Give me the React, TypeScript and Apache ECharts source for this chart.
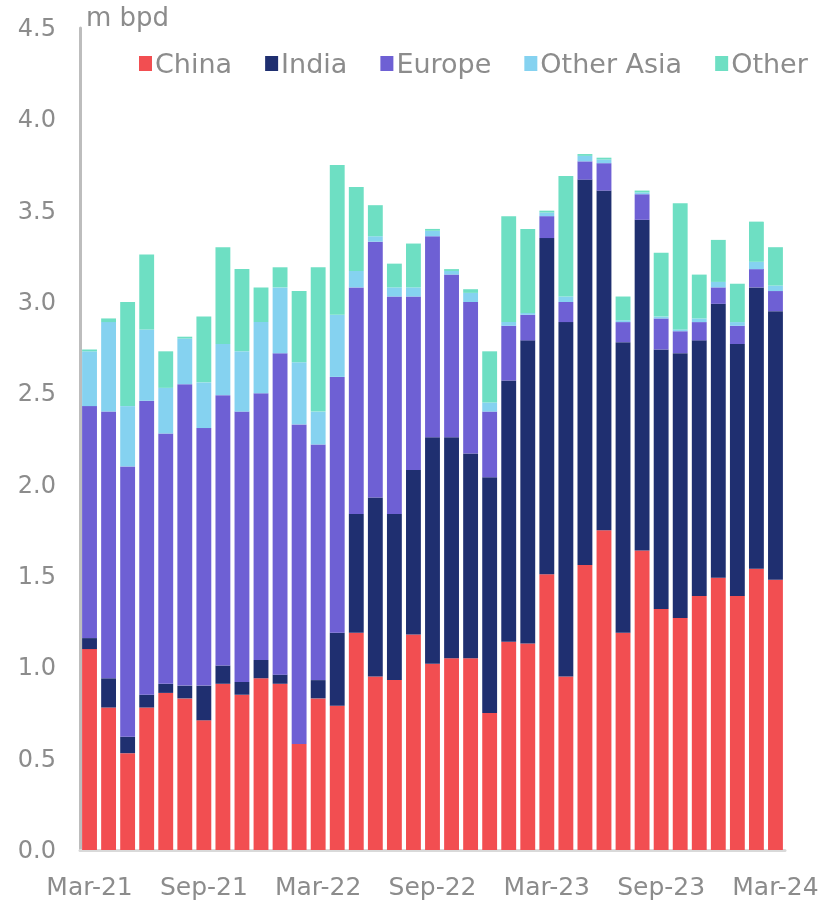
import React, { useEffect, useRef } from "react";
import * as echarts from "echarts";

const months = [
  "Mar-21","Apr-21","May-21","Jun-21","Jul-21","Aug-21","Sep-21","Oct-21","Nov-21","Dec-21",
  "Jan-22","Feb-22","Mar-22","Apr-22","May-22","Jun-22","Jul-22","Aug-22","Sep-22","Oct-22",
  "Nov-22","Dec-22","Jan-23","Feb-23","Mar-23","Apr-23","May-23","Jun-23","Jul-23","Aug-23",
  "Sep-23","Oct-23","Nov-23","Dec-23","Jan-24","Feb-24","Mar-24",
];

const china = [1.10,0.78,0.53,0.78,0.86,0.83,0.71,0.91,0.85,0.94,0.91,0.58,0.83,0.79,1.19,0.95,0.93,1.18,1.02,1.05,1.05,0.75,1.14,1.13,1.51,0.95,1.56,1.75,1.19,1.64,1.32,1.27,1.39,1.49,1.39,1.54,1.48];
const india = [0.06,0.16,0.09,0.07,0.05,0.07,0.19,0.10,0.07,0.10,0.05,0.00,0.10,0.40,0.65,0.98,0.91,0.90,1.24,1.21,1.12,1.29,1.43,1.66,1.84,1.94,2.11,1.86,1.59,1.81,1.42,1.45,1.40,1.50,1.38,1.54,1.47];
const europe = [1.27,1.46,1.48,1.61,1.37,1.65,1.41,1.48,1.48,1.46,1.76,1.75,1.29,1.40,1.24,1.40,1.19,0.95,1.10,0.89,0.83,0.36,0.30,0.14,0.12,0.11,0.10,0.15,0.11,0.14,0.17,0.12,0.10,0.09,0.10,0.10,0.11];
const otherAsia = [0.30,0.49,0.33,0.39,0.25,0.25,0.25,0.28,0.33,0.39,0.36,0.34,0.18,0.34,0.09,0.03,0.05,0.05,0.03,0.02,0.05,0.05,0.02,0.01,0.02,0.03,0.03,0.02,0.01,0.01,0.01,0.01,0.02,0.03,0.02,0.04,0.03];
const other = [0.01,0.02,0.57,0.41,0.20,0.01,0.36,0.53,0.45,0.19,0.11,0.39,0.79,0.82,0.46,0.17,0.13,0.24,0.01,0.01,0.02,0.28,0.58,0.46,0.01,0.66,0.01,0.01,0.13,0.01,0.35,0.69,0.24,0.23,0.21,0.22,0.21];

const seriesNames = ["China", "India", "Europe", "Other Asia", "Other"];
const seriesColors = ["#F24E51", "#1F2F70", "#6E60D4", "#85D2F0", "#6EDFC3"];
const seriesData = [china, india, europe, otherAsia, other];

const FONT = "DejaVu Sans";
const TEXT_COLOR = "#8C8C8C";

export default function App() {
  const ref = useRef<HTMLDivElement>(null);
  useEffect(() => {
    if (!ref.current) return;
    const chart = echarts.init(ref.current, undefined, { renderer: "svg" });
    chart.setOption({
      animation: false,
      textStyle: { fontFamily: FONT },
      grid: { left: 80, right: 40, top: 28, bottom: 52, containLabel: false },
      legend: {
        data: seriesNames,
        left: 134,
        top: 45,
        itemWidth: 13,
        itemHeight: 15,
        itemGap: 33,
        icon: "rect",
        textStyle: { fontFamily: FONT, fontSize: 27, color: TEXT_COLOR, padding: [0, 0, 0, -2] },
      },
      graphic: [
        {
          type: "text",
          left: 86,
          top: 4,
          style: { text: "m bpd", fontFamily: FONT, fontSize: 26, fill: TEXT_COLOR },
        },
      ],
      xAxis: {
        type: "category",
        data: months,
        axisLine: { lineStyle: { color: "#D9D9D9", width: 3 } },
        axisTick: { show: false },
        axisLabel: {
          interval: 5,
          margin: 24,
          fontFamily: FONT,
          fontSize: 25,
          color: TEXT_COLOR,
        },
      },
      yAxis: {
        type: "value",
        min: 0,
        max: 4.5,
        interval: 0.5,
        splitLine: { show: false },
        axisTick: { show: false },
        axisLine: { show: true, lineStyle: { color: "#BDBDBD", width: 3 } },
        axisLabel: {
          margin: 24,
          fontFamily: FONT,
          fontSize: 24,
          color: TEXT_COLOR,
          formatter: (v: number) => v.toFixed(1),
        },
      },
      series: seriesNames.map((name, i) => ({
        name,
        type: "bar",
        stack: "total",
        data: seriesData[i],
        barCategoryGap: "22%",
        itemStyle: { color: seriesColors[i] },
      })),
    });
    return () => chart.dispose();
  }, []);
  return (
    <div
      ref={ref}
      style={{ position: "fixed", left: 0, top: 0, width: 825, height: 902 }}
    />
  );
}
